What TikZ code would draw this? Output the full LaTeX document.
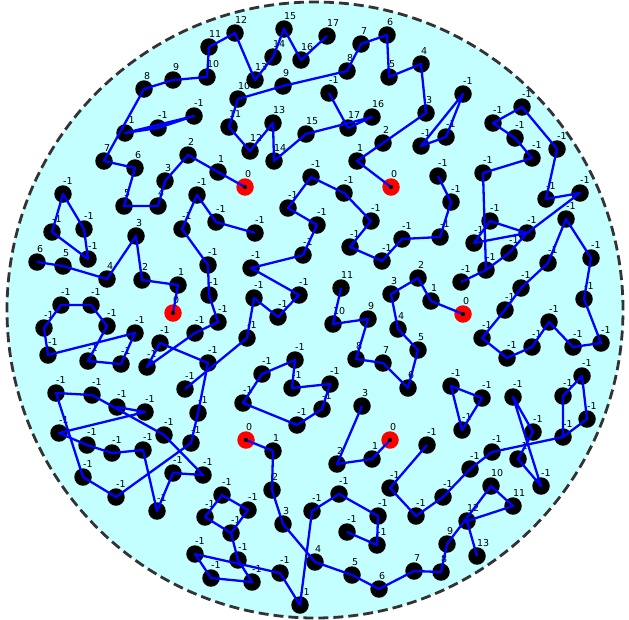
\documentclass[tikz,border=0pt]{standalone}
\usepackage{fontspec}
\setmainfont{DejaVu Sans}
\definecolor{pool}{RGB}{196,255,255}

% place one walk: prefix, list of x/y/label
\newcommand{\walk}[2]{%
  \foreach \x/\y/\lab [count=\i] in {#2}{%
    \ifnum\lab=0 \node[src] (#1-\i) at (\x,\y) {};%
    \else \node[dot] (#1-\i) at (\x,\y) {};\fi
    \node[lbl] (#1-l\i) at (\x,\y-9.5) {\lab};}}

\begin{document}
\begin{tikzpicture}[x=1pt, y=-1pt,
  dot/.style={circle, fill=black, inner sep=0pt, minimum size=17.5pt},
  src/.style={circle, fill=red, inner sep=0pt, minimum size=17.5pt},
  lbl/.style={anchor=base west, inner sep=0pt, font=\fontsize{9.5}{11}\selectfont},
  link/.style={draw=blue, line width=2.3pt, line join=round},
  rim/.style={draw=black!80, fill=pool, line width=2.8pt, dash pattern=on 10pt off 5pt}]
  \useasboundingbox (0,0) rectangle (629,619);
  \path[rim] (315,310) circle[radius=308pt];

  % numbered walks
  \walk{A}{245/187/0, 218/172/1, 188/155/2, 165/181/3, 158/206/4, 124/206/5, 135/168/6,
    104/161/7, 144/89/8, 173/80/9, 207/77/10, 209/47/11, 235/33/12, 255/80/13, 273/57/14,
    284/29/15, 301/60/16, 327/36/17}
  \walk{B}{391/187/0, 357/161/1, 383/143/2, 426/113/3, 421/64/4, 389/77/5, 387/35/6,
    361/44/7, 347/71/8, 283/86/9, 238/99/10, 229/127/11, 250/151/12, 273/123/13,
    274/161/14, 306/134/15, 372/117/16, 348/128/17}
  \walk{bx}{329/93/-1}
  \walk{D}{173/313/0, 178/285/1, 142/280/2, 136/236/3, 107/279/4, 63/266/5, 37/262/6}
  \walk{G}{463/314/0, 431/301/1, 418/278/2, 391/294/3, 398/329/4, 418/350/5, 408/388/6,
    383/363/7, 356/359/8, 368/319/9, 333/324/10, 341/288/11}
  \walk{H}{390/440/0, 372/459/1, 337/464/2, 362/406/3}
  \walk{I}{246/440/0, 273/451/1, 272/490/2, 283/524/3, 315/562/4, 352/575/5, 379/589/6,
    414/571/7, 441/572/8, 447/544/9, 491/486/10, 513/506/11, 467/521/12, 477/556/13}

  % unnumbered walks
  \walk{ta}{125/133/-1, 158/128/-1, 194/116/-1}
  \walk{tb}{463/94/-1, 421/146/-1, 446/137/-1}
  \walk{C}{461/282/-1, 486/270/-1, 509/253/-1, 527/233/-1, 580/193/-1, 546/199/-1,
    557/149/-1, 522/107/-1, 493/123/-1, 515/138/-1, 532/158/-1, 483/173/-1}
  \walk{tc}{490/221/-1, 474/243/-1}
  \walk{R}{566/219/-1, 548/263/-1, 521/288/-1, 505/310/-1, 482/338/-1, 507/358/-1,
    532/347/-1, 549/322/-1, 573/347/-1, 601/343/-1, 584/299/-1, 591/258/-1}
  \walk{qa}{63/194/-1, 52/232/-1, 88/259/-1, 84/229/-1}
  \walk{P}{48/355/-1, 44/328/-1, 61/305/-1, 91/305/-1, 107/326/-1, 88/361/-1,
    121/364/-1, 135/333/-1}
  \walk{E}{255/233/-1, 216/222/-1, 197/195/-1, 182/229/-1, 208/265/-1, 209/295/-1,
    218/322/-1, 195/333/-1, 147/367/-1, 160/343/-1, 208/363/-1, 198/413/-1, 191/443/-1,
    116/497/-1, 83/477/-1, 56/393/-1, 92/395/-1, 164/435/-1, 203/475/-1, 173/473/-1,
    157/511/-1, 143/450/-1, 112/453/-1, 87/445/-1, 59/433/-1, 145/412/-1, 117/407/-1}
  \walk{F}{185/389/-1, 247/338/-1, 254/298/-1, 278/317/-1, 299/295/-1, 251/268/-1,
    303/255/-1, 317/225/-1, 288/208/-1, 311/177/-1, 344/193/-1, 371/221/-1, 350/247/-1,
    382/261/-1, 402/239/-1, 440/237/-1, 451/202/-1, 438/176/-1}
  \walk{S}{243/403/-1, 262/374/-1, 295/360/-1, 292/388/-1, 330/384/-1, 322/409/-1,
    297/425/-1}
  \walk{td}{451/386/-1, 482/398/-1, 462/430/-1}
  \walk{qb}{513/397/-1, 533/432/-1, 518/459/-1, 541/486/-1}
  \walk{J}{427/445/-1, 390/488/-1, 416/516/-1, 443/497/-1, 470/469/-1, 492/452/-1,
    563/437/-1, 587/419/-1, 582/376/-1, 563/396/-1}
  \walk{K}{205/517/-1, 222/495/-1, 248/510/-1, 231/533/-1, 238/560/-1, 252/582/-1,
    211/578/-1, 195/554/-1, 280/573/-1, 300/605/-1, 312/511/-1, 339/494/-1, 378/516/-1,
    377/545/-1, 347/532/-1}

  % connectors
  \draw[link] (A-1.center) \foreach \i in {2,...,18}{-- (A-\i.center)};
  \draw[link] (B-1.center) \foreach \i in {2,...,18}{-- (B-\i.center)};
  \draw[link] (bx-1.center) -- (B-18.center);
  \draw[link] (D-1.center) \foreach \i in {2,...,7}{-- (D-\i.center)};
  \draw[link] (G-1.center) \foreach \i in {2,...,12}{-- (G-\i.center)};
  \draw[link] (H-1.center) \foreach \i in {2,...,4}{-- (H-\i.center)};
  \draw[link] (I-1.center) \foreach \i in {2,...,14}{-- (I-\i.center)};
  \draw[link] (ta-1.center) -- (ta-2.center) -- (ta-3.center) -- cycle;
  \draw[link] (tb-1.center) -- (tb-2.center) -- (tb-3.center) -- cycle;
  \draw[link] (C-1.center) \foreach \i in {2,...,12}{-- (C-\i.center)} -- (C-2.center);
  \draw[link] (tc-1.center) -- (C-4.center) -- (tc-2.center) -- cycle;
  \draw[link] (R-1.center) \foreach \i in {2,...,12}{-- (R-\i.center)} -- cycle;
  \draw[link] (qa-1.center) \foreach \i in {2,...,4}{-- (qa-\i.center)} -- cycle;
  \draw[link] (P-1.center) \foreach \i in {2,...,8}{-- (P-\i.center)} -- cycle;
  \draw[link] (E-1.center) \foreach \i in {2,...,27}{-- (E-\i.center)};
  \draw[link] (F-1.center) \foreach \i in {2,...,18}{-- (F-\i.center)};
  \draw[link] (S-1.center) \foreach \i in {2,...,7}{-- (S-\i.center)} -- cycle;
  \draw[link] (td-1.center) -- (td-2.center) -- (td-3.center) -- cycle;
  \draw[link] (qb-1.center) \foreach \i in {2,...,4}{-- (qb-\i.center)} -- cycle;
  \draw[link] (J-1.center) \foreach \i in {2,...,10}{-- (J-\i.center)} -- (J-7.center);
  \draw[link] (K-1.center) \foreach \i in {2,...,15}{-- (K-\i.center)};
  \draw[link] (K-4.center) -- (K-1.center);

  % centre marks of the sources
  \foreach \s in {A,B,D,G,H,I}
    \fill[black] (\s-1.center) circle[radius=2.2pt];
\end{tikzpicture}
\end{document}
